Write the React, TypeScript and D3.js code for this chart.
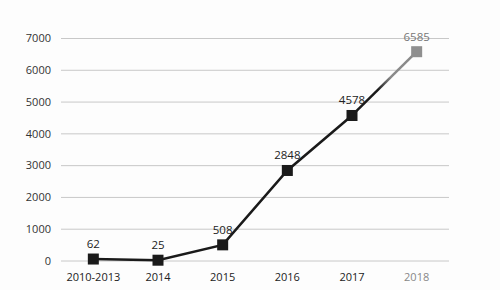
import React from "react";
import * as d3 from "d3";

const categories = ["2010-2013", "2014", "2015", "2016", "2017", "2018"];
const values = [62, 25, 508, 2848, 4578, 6585];
const yTicks = [0, 1000, 2000, 3000, 4000, 5000, 6000, 7000];

const W = 500;
const H = 290;

export default function App() {
  const x = d3.scaleBand<string>().domain(categories).range([61, 449]);
  const y = d3.scaleLinear().domain([0, 7000]).range([261, 38.5]);
  const cx = (c: string) => (x(c) ?? 0) + x.bandwidth() / 2;
  const pts = categories.map((c, i) => [cx(c), y(values[i])] as [number, number]);
  const line = d3.line();
  const mainPath = line(pts.slice(0, 5)) ?? "";
  const lastPath = line(pts.slice(4)) ?? "";
  const font = "'Open Sans', 'Liberation Sans', sans-serif";
  const [x4, y4] = pts[4];
  const [x5, y5] = pts[5];
  return (
    <svg width={W} height={H} style={{ position: "absolute", left: 0, top: 0, background: "#fff" }}>
      <defs>
        <linearGradient id="fade" gradientUnits="userSpaceOnUse" x1={x4} y1={y4} x2={x5} y2={y5}>
          <stop offset="0" stopColor="#1a1a1a" />
          <stop offset="0.4" stopColor="#1a1a1a" />
          <stop offset="0.6" stopColor="#8a8a8a" />
          <stop offset="1" stopColor="#8a8a8a" />
        </linearGradient>
      </defs>
      <rect x={0} y={0} width={W} height={H} fill="#fdfdfd" />
      {yTicks.map((t) => (
        <g key={t}>
          <line x1={61} x2={449} y1={y(t)} y2={y(t)} stroke="#c8c8c8" strokeWidth={1} />
          <text x={51} y={y(t)} dy="0.35em" textAnchor="end" fontFamily={font} fontSize={11} fill="#333">
            {t}
          </text>
        </g>
      ))}
      {categories.map((c, i) => (
        <text
          key={c}
          x={cx(c)}
          y={281}
          textAnchor="middle"
          fontFamily={font}
          fontSize={11}
          fill={i === 5 ? "#888" : "#222"}
        >
          {c}
        </text>
      ))}
      <path d={mainPath} fill="none" stroke="#1a1a1a" strokeWidth={2.5} />
      <path d={lastPath} fill="none" stroke="url(#fade)" strokeWidth={2.5} />
      {pts.map(([px, py], i) => (
        <g key={i}>
          <rect
            x={px - 5.5}
            y={py - 5.5}
            width={11}
            height={11}
            fill={i === 5 ? "#8f8f8f" : "#1a1a1a"}
          />
          <text
            x={px}
            y={py - 11}
            textAnchor="middle"
            fontFamily={font}
            fontSize={11.5}
            fill={i === 5 ? "#777" : "#222"}
          >
            {values[i]}
          </text>
        </g>
      ))}
    </svg>
  );
}
